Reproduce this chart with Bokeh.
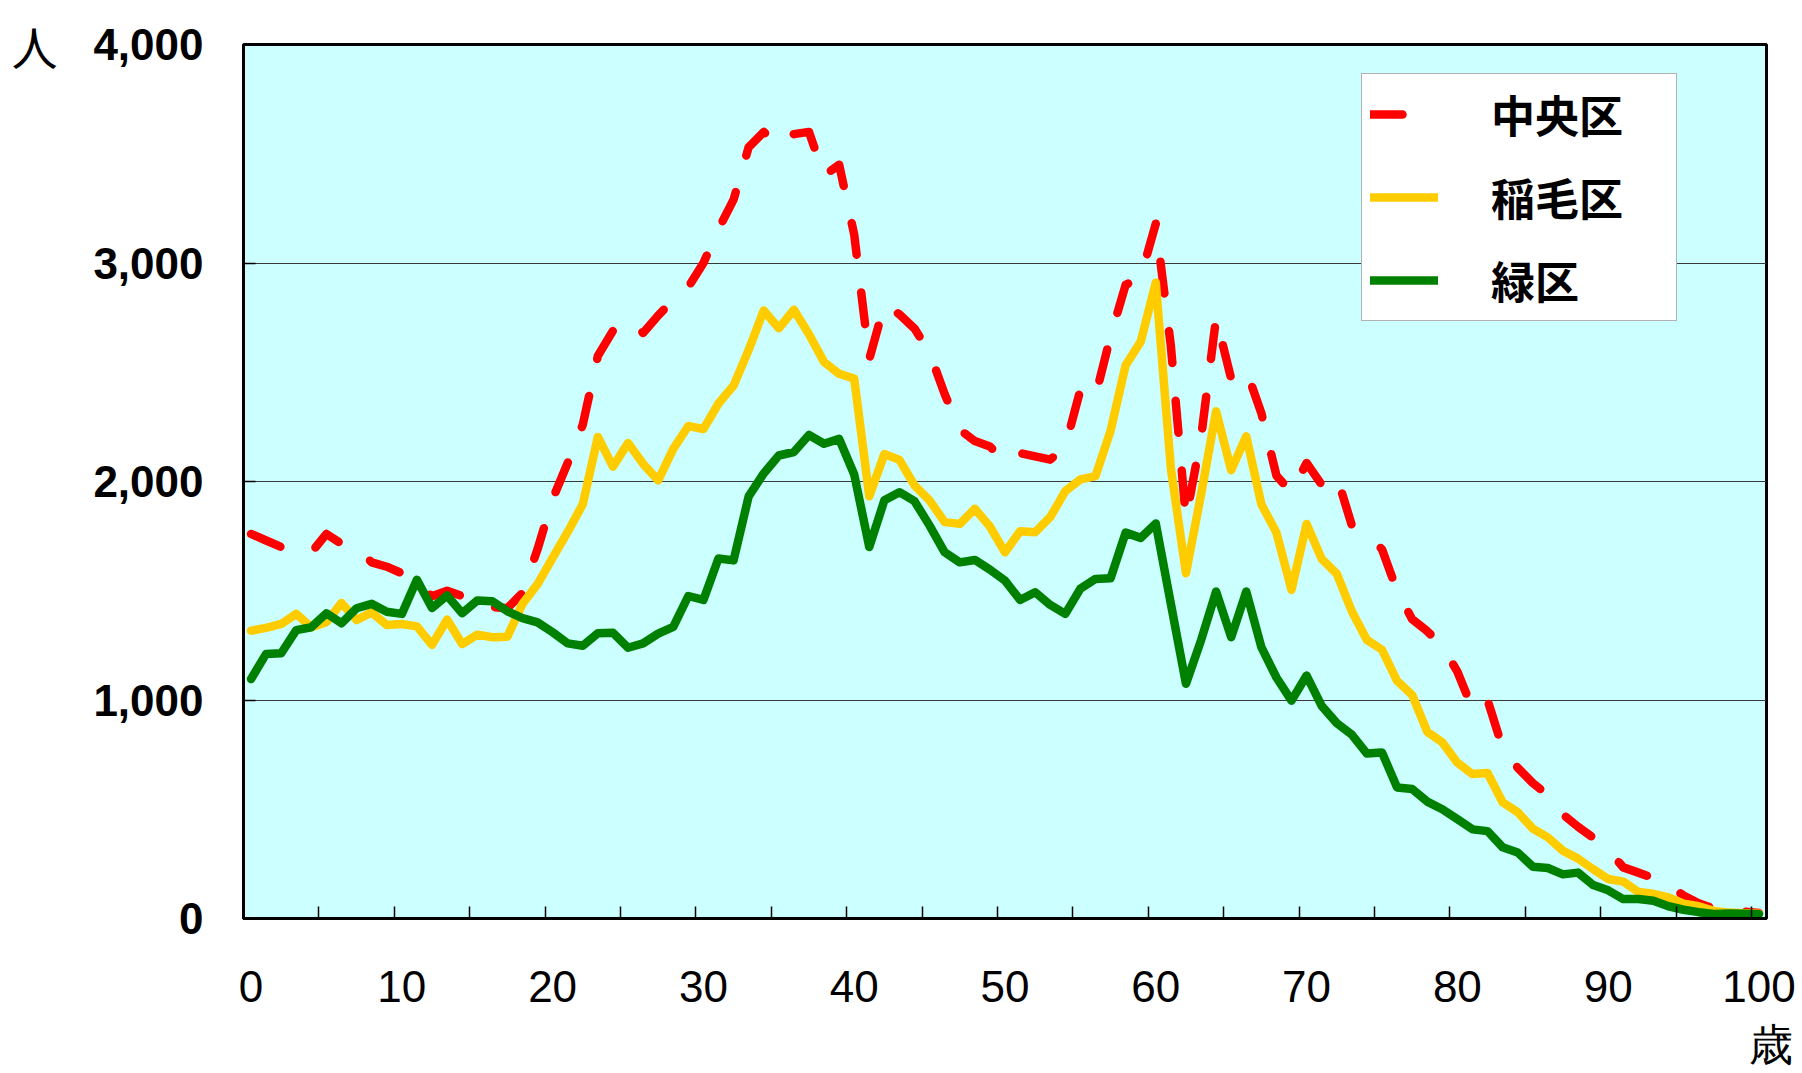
from bokeh.plotting import figure
from bokeh.models import (ColumnDataSource, Range1d, FixedTicker, LinearAxis,
                          NumeralTickFormatter, Legend)
from bokeh.embed import file_html
from bokeh.resources import INLINE

ages = list(range(101))

chuo = [1760, 1730, 1700, 1690, 1675, 1760, 1715, 1700, 1630, 1610,
        1580, 1530, 1475, 1500, 1475, 1435, 1425, 1420, 1490, 1690,
        1920, 2085, 2260, 2575, 2690, 2740, 2680, 2760, 2830, 2890,
        3000, 3155, 3290, 3530, 3600, 3535, 3590, 3600, 3400, 3450,
        3130, 2560, 2810, 2765, 2700, 2590, 2400, 2237, 2185, 2160,
        2090, 2130, 2115, 2100, 2160, 2420, 2390, 2665, 2900, 2935,
        3180, 2620, 1830, 2200, 2750, 2470, 2510, 2313, 2027, 1950,
        2085, 1985, 2025, 1800, 1755, 1690, 1500, 1370, 1315, 1247,
        1130, 960, 1000, 780, 690, 620, 565, 476, 420, 370,
        315, 234, 210, 185, 153, 105, 70, 45, 56, 32,
        25]

inage = [1317, 1330, 1348, 1394, 1333, 1356, 1444, 1366, 1401, 1343,
         1348, 1337, 1252, 1368, 1256, 1299, 1287, 1290, 1440, 1530,
         1650, 1769, 1896, 2204, 2068, 2176, 2081, 2005, 2149, 2254,
         2240, 2357, 2439, 2602, 2783, 2701, 2786, 2674, 2547, 2493,
         2471, 1932, 2126, 2099, 1982, 1913, 1814, 1806, 1875, 1794,
         1676, 1772, 1768, 1837, 1956, 2010, 2025, 2232, 2532, 2640,
         2910, 2060, 1580, 1940, 2321, 2052, 2207, 1896, 1766, 1504,
         1806, 1646, 1578, 1406, 1275, 1230, 1088, 1023, 855, 806,
         713, 661, 666, 532, 487, 411, 371, 310, 274, 226,
         181, 169, 121, 113, 97, 68, 56, 35, 27, 24,
         22]

midori = [1096, 1211, 1214, 1320, 1333, 1397, 1351, 1420, 1440, 1404,
          1394, 1550, 1421, 1478, 1397, 1455, 1452, 1406, 1375, 1355,
          1310, 1259, 1248, 1306, 1308, 1239, 1259, 1304, 1335, 1476,
          1458, 1648, 1639, 1932, 2037, 2119, 2135, 2213, 2173, 2195,
          2032, 1700, 1914, 1951, 1910, 1798, 1676, 1630, 1641, 1597,
          1546, 1458, 1493, 1435, 1394, 1510, 1554, 1557, 1766, 1742,
          1808, 1440, 1074, 1273, 1496, 1287, 1496, 1242, 1103, 997,
          1112, 973, 894, 842, 755, 760, 600, 593, 535, 500,
          455, 408, 400, 326, 302, 237, 231, 202, 210, 153,
          129, 89, 89, 81, 56, 40, 29, 21, 23, 22,
          20]

series_names = ["中央区", "稲毛区", "緑区"]
y_ticks = [0, 1000, 2000, 3000, 4000]
x_label_ticks = list(range(0, 101, 10))
x_mark_ticks = [4.5 + 5 * i for i in range(20)]
y_unit_label = "人"
x_unit_label = "歳"

source = ColumnDataSource(dict(age=ages, chuo=chuo, inage=inage, midori=midori))

p = figure(width=1802, height=1073, title=None,
           x_range=Range1d(-0.5, 100.5), y_range=Range1d(0, 4000),
           output_backend="svg", toolbar_location=None,
           background_fill_color="#CCFFFF", border_fill_color="white",
           min_border_left=243, min_border_right=36,
           min_border_top=44, min_border_bottom=155)

p.outline_line_color = "black"
p.outline_line_width = 3

# grid
p.xgrid.grid_line_color = None
p.ygrid.ticker = FixedTicker(ticks=y_ticks)
p.ygrid.grid_line_color = "#3a3a3a"
p.ygrid.grid_line_width = 1

# y axis
ya = p.yaxis[0]
ya.ticker = FixedTicker(ticks=y_ticks)
ya.formatter = NumeralTickFormatter(format="0,0")
ya.major_tick_in = 12
ya.major_tick_out = 0
ya.major_tick_line_color = "black"
ya.major_tick_line_width = 1.5
ya.minor_tick_line_color = None
ya.minor_tick_out = 0
ya.axis_line_color = "black"
ya.axis_line_width = 3
ya.major_label_standoff = 40
ya.major_label_text_font = "Liberation Sans"
ya.major_label_text_font_style = "bold"
ya.major_label_text_font_size = "44px"
ya.major_label_text_color = "black"

# unit label "人" as a second left axis with a single tick at the top
yu = LinearAxis(ticker=FixedTicker(ticks=[y_ticks[-1]]),
                major_label_overrides={y_ticks[-1]: y_unit_label})
yu.major_tick_line_color = None
yu.major_tick_out = 0
yu.major_tick_in = 0
yu.minor_tick_line_color = None
yu.minor_tick_out = 0
yu.axis_line_color = None
yu.major_label_standoff = 33
yu.major_label_text_font = "Noto Sans CJK JP"
yu.major_label_text_font_size = "46px"
yu.major_label_text_color = "black"
p.add_layout(yu, "left")

# x axis: labels at category centres, inner marks every 5 categories,
# unit "歳" as a second line under the last label
xa = p.xaxis[0]
xa.ticker = FixedTicker(ticks=x_label_ticks, minor_ticks=x_mark_ticks)
xa.major_label_overrides = {x_label_ticks[-1]: str(x_label_ticks[-1]) + "\n\u00a0\u00a0" + x_unit_label}
xa.major_tick_line_color = None
xa.major_tick_in = 0
xa.major_tick_out = 0
xa.minor_tick_in = 12
xa.minor_tick_out = 0
xa.minor_tick_line_color = "black"
xa.minor_tick_line_width = 1.5
xa.axis_line_color = "black"
xa.axis_line_width = 3
xa.major_label_standoff = 43
xa.major_label_text_font = "Liberation Sans"
xa.major_label_text_font_size = "44px"
xa.major_label_text_color = "black"

r1 = p.line("age", "chuo", source=source, line_color="#FF0000", line_width=8.5,
            line_dash="32 38", line_cap="round", line_join="round")
r2 = p.line("age", "inage", source=source, line_color="#FFCC00", line_width=8.5,
            line_cap="round", line_join="round")
r3 = p.line("age", "midori", source=source, line_color="#008000", line_width=8.5,
            line_cap="round", line_join="round")

legend = Legend(items=[(series_names[0], [r1]), (series_names[1], [r2]), (series_names[2], [r3])],
                location=(1118, 597))
legend.padding = 8
legend.spacing = 19
legend.glyph_width = 68
legend.glyph_height = 50
legend.label_height = 50
legend.label_width = 177
legend.label_standoff = 53
legend.label_text_font = "Noto Sans CJK JP"
legend.label_text_font_style = "bold"
legend.label_text_font_size = "44px"
legend.label_text_color = "black"
legend.label_text_baseline = "middle"
legend.background_fill_color = "white"
legend.background_fill_alpha = 1
legend.border_line_color = "#666666"
legend.border_line_width = 1.5
p.add_layout(legend, "center")

with open("out.html", "w") as f:
    f.write(file_html(p, INLINE))
